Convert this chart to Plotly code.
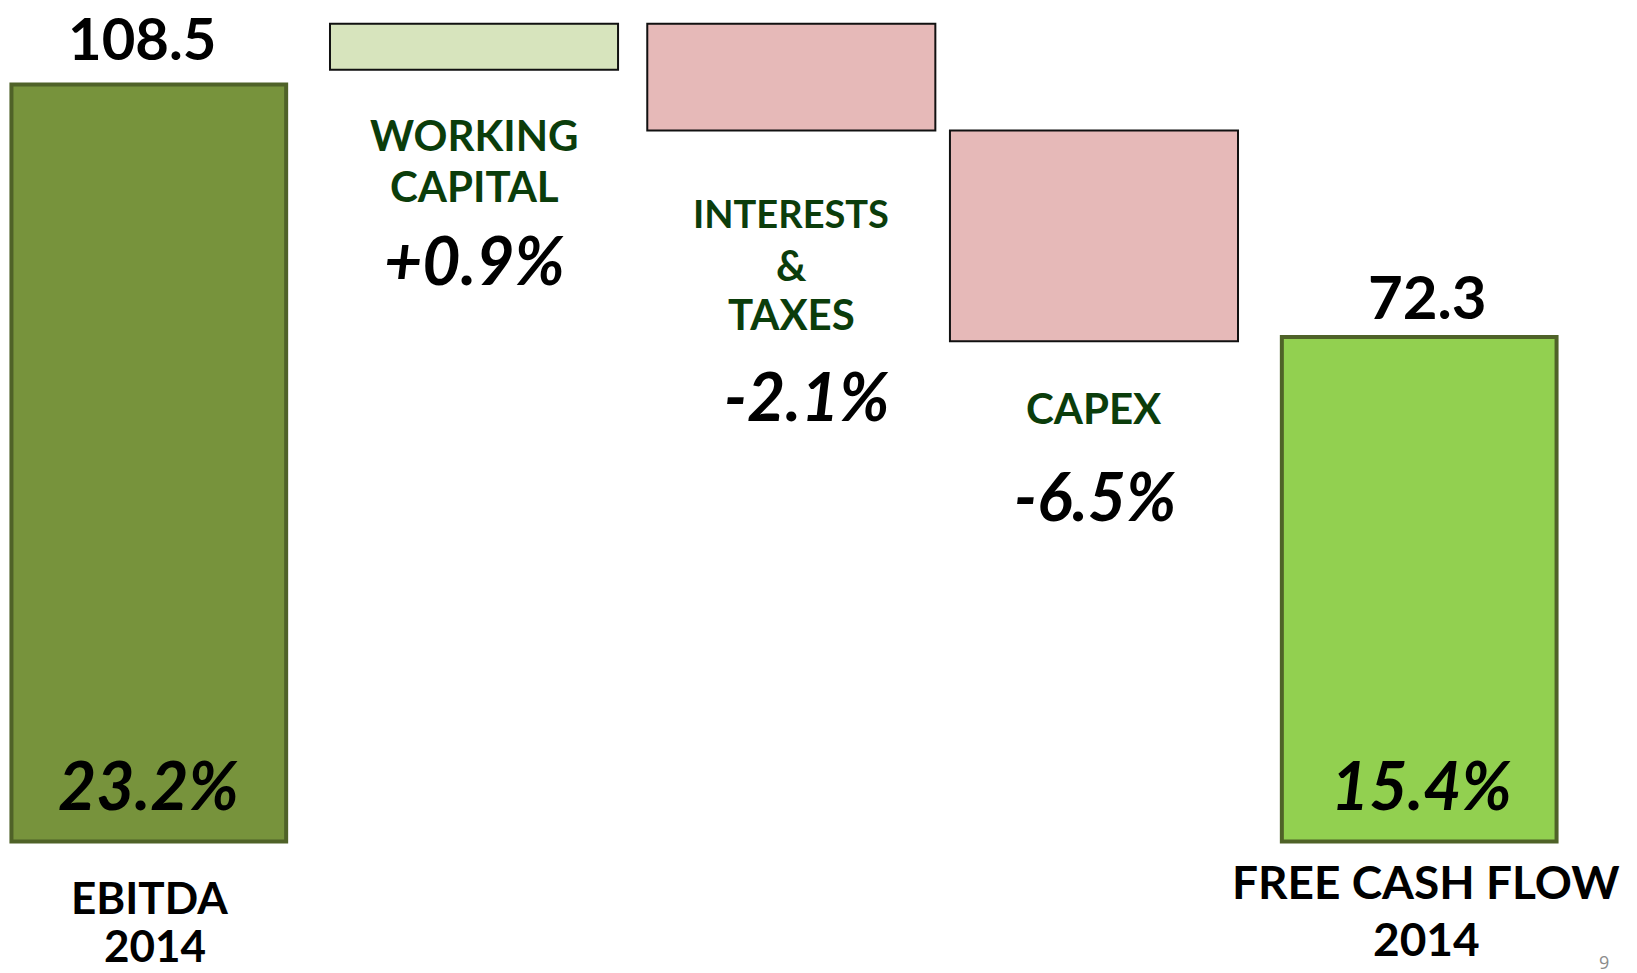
import plotly.graph_objects as go

# ---------------- data ----------------
categories = ["EBITDA 2014", "WORKING CAPITAL", "INTERESTS & TAXES", "CAPEX", "FREE CASH FLOW 2014"]
bar_low = [0, 110.6, 101.9, 71.7, 0]
bar_high = [108.5, 117.2, 117.2, 101.9, 72.3]
total_labels = ["108.5", "", "", "", "72.3"]
pct_labels = ["23.2%", "+0.9%", "-2.1%", "-6.5%", "15.4%"]
name_lines = [["EBITDA", "2014"], ["WORKING", "CAPITAL"], ["INTERESTS", "&", "TAXES"], ["CAPEX"],
              ["FREE CASH FLOW", "2014"]]

# ---------------- style ----------------
W, H = 1637, 973
fills = ["#77933C", "#D7E4BD", "#E6B9B8", "#E6B9B8", "#92D050"]
edges = ["#4F6228", "#111111", "#111111", "#111111", "#4F6228"]
edge_w = [4, 2, 2, 2, 4]
bar_w = [0.865, 0.907, 0.907, 0.907, 0.865]
bar_shift = [0, 0.024, 0.023, -0.024, 0]
offsets = [-w / 2 + s for w, s in zip(bar_w, bar_shift)]

FONT = "Lato"
GREEN_TXT = "#0B3D0B"

fig = go.Figure(go.Bar(
    x=categories,
    y=[h - l for h, l in zip(bar_high, bar_low)],
    base=bar_low,
    width=bar_w,
    offset=offsets,
    marker=dict(color=fills, line=dict(color=edges, width=edge_w)),
    hoverinfo="skip",
))


def ann(xp, yp, text, size, color="#000000", italic=False):
    fig.add_annotation(
        x=xp / W, y=1 - yp / H, xref="paper", yref="paper",
        text=text, showarrow=False, xanchor="center", yanchor="middle",
        font=dict(family=FONT, size=size, color=color, weight="bold",
                  style="italic" if italic else "normal"),
    )


# totals above bars
ann(142, 37, total_labels[0], 58)
ann(1427, 296, total_labels[4], 60)

# category names
ann(474, 135, name_lines[1][0], 42, GREEN_TXT)
ann(474, 186, name_lines[1][1], 42, GREEN_TXT)
ann(791, 213, name_lines[2][0], 38, GREEN_TXT)
ann(791, 265, name_lines[2][1], 42, GREEN_TXT)
ann(791, 314, name_lines[2][2], 42, GREEN_TXT)
ann(1094, 408, name_lines[3][0], 42, GREEN_TXT)

ann(149, 897, name_lines[0][0], 44)
ann(155, 945, name_lines[0][1], 44)
ann(1426, 881, name_lines[4][0], 46)
ann(1426, 938, name_lines[4][1], 46)

# percentages
ann(148, 784, pct_labels[0], 66, italic=True)
ann(474, 259, pct_labels[1], 66, italic=True)
ann(806, 395, pct_labels[2], 66, italic=True)
ann(1095, 495, pct_labels[3], 66, italic=True)
ann(1421, 784, pct_labels[4], 66, italic=True)

# page number
fig.add_annotation(x=1604 / W, y=1 - 962 / H, xref="paper", yref="paper", text="9",
                   showarrow=False, xanchor="center", yanchor="middle",
                   font=dict(family="Open Sans", size=18, color="#8C8C8C"))

spacing = 317.6
x0 = -148.8 / spacing
px_per_unit = 757.0 / 108.5
y_lo = -(H - 841.5) / px_per_unit
y_hi = 841.5 / px_per_unit

fig.update_layout(
    width=W, height=H,
    margin=dict(l=0, r=0, t=0, b=0),
    paper_bgcolor="white", plot_bgcolor="white",
    showlegend=False,
    xaxis=dict(range=[x0, x0 + W / spacing], visible=False),
    yaxis=dict(range=[y_lo, y_hi], visible=False),
)

fig.write_html("out.html", config={"displayModeBar": False},
               post_script="document.body.style.margin='0px';document.body.style.overflow='hidden';")
